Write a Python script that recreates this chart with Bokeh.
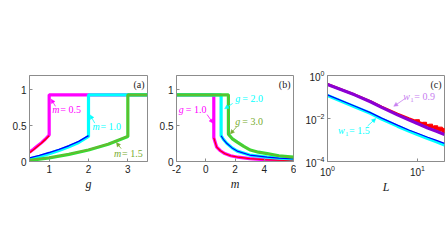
import math
from bokeh.plotting import figure
from bokeh.layouts import row
from bokeh.models import Label, Arrow, NormalHead, FixedTicker, CustomJSTickFormatter, Range1d
from bokeh.embed import file_html
from bokeh.resources import INLINE

# ---------------- data ----------------
# panel (a): k_c vs g
g_m05 = [0.5, 0.6, 0.7, 0.8, 0.9, 1.0, 1.0, 3.5]
kc_m05 = [0.13, 0.17, 0.215, 0.26, 0.31, 0.37, 0.93, 0.93]
kc_m05_th = [0.12, 0.165, 0.21, 0.255, 0.305, 0.36, 0.93, 0.93]

g_m10 = [0.5, 0.75, 1.0, 1.25, 1.5, 1.75, 2.0, 2.0, 3.5]
kc_m10 = [0.035, 0.07, 0.11, 0.155, 0.205, 0.265, 0.35, 0.93, 0.93]
kc_m10_th = [0.05, 0.085, 0.125, 0.17, 0.22, 0.28, 0.36, 0.93, 0.93]

g_m15 = [0.5, 1.0, 1.5, 2.0, 2.5, 3.0, 3.0, 3.5]
kc_m15 = [0.015, 0.05, 0.10, 0.16, 0.24, 0.35, 0.93, 0.93]
kc_m15_th = [0.02, 0.055, 0.105, 0.165, 0.245, 0.355, 0.93, 0.93]

# panel (b): k_c vs m
m_g10 = [-2.0, 0.55, 0.55, 0.75, 1.0, 1.3, 1.7, 2.2, 3.0, 4.0, 5.0, 6.0]
kc_g10 = [0.93, 0.93, 0.33, 0.2, 0.15, 0.11, 0.08, 0.06, 0.04, 0.026, 0.019, 0.015]

m_g20 = [-2.0, 1.05, 1.05, 1.2, 1.45, 1.8, 2.15, 3.0, 4.2, 5.0, 6.0]
kc_g20 = [0.93, 0.93, 0.36, 0.31, 0.25, 0.19, 0.145, 0.09, 0.06, 0.048, 0.037]

m_g30 = [-2.0, 1.55, 1.55, 1.8, 2.15, 2.6, 3.05, 3.6, 4.2, 5.0, 6.0]
kc_g30 = [0.93, 0.93, 0.38, 0.32, 0.27, 0.21, 0.16, 0.13, 0.11, 0.08, 0.06]

# panel (c): k_c vs L (log-log)
L_vals = [1, 2, 3, 4, 6, 8, 10, 13, 16, 20]
kc_w09 = [0.38, 0.126, 0.060, 0.033, 0.0148, 0.0087, 0.0058, 0.0036, 0.0026, 0.0018]
kc_w15 = [0.117, 0.0355, 0.0174, 0.0095, 0.0044, 0.0026, 0.0018, 0.00117, 0.00085, 0.00058]
kc_w15_th = [0.125, 0.038, 0.0188, 0.0104, 0.0049, 0.0029, 0.00205, 0.00135, 0.00099, 0.00070]
L_sim = [1, 2, 3, 4, 6, 8, 10, 12, 14, 16, 18, 20]
kc_w09_sim = [0.39, 0.129, 0.063, 0.035, 0.0165, 0.0100, 0.0071, 0.0054, 0.0044, 0.0037, 0.0032, 0.0028]

# ---------------- styling helpers ----------------
SERIF = "Liberation Serif"
SANS = "Liberation Sans"
AX = "#8c8c8c"
MAG, RED = "#ff00ff", "#ff0000"
CYA, BLU = "#00ffff", "#0000ff"
GRN, OLV = "#33dd33", "#77ac30"
PUR, LPUR = "#8a00d4", "#c880f0"


def base_fig(width, left, right, **kw):
    p = figure(width=width, height=252, output_backend="svg", toolbar_location=None,
               min_border_left=left, min_border_right=right, min_border_top=75,
               min_border_bottom=91, **kw)
    p.grid.visible = False
    p.outline_line_color = AX
    p.outline_line_width = 1
    p.background_fill_color = "white"
    p.border_fill_color = "white"
    for ax in (p.xaxis[0], p.yaxis[0]):
        ax.axis_line_color = AX
        ax.major_tick_line_color = AX
        ax.major_tick_in = 3
        ax.major_tick_out = 0
        ax.minor_tick_line_color = None
        ax.major_label_text_font = SANS
        ax.major_label_text_font_size = "10px"
        ax.major_label_text_color = "#222222"
        ax.major_label_standoff = 3
    p.xaxis.axis_label_text_font = SERIF
    p.xaxis.axis_label_text_font_style = "italic"
    p.xaxis.axis_label_text_font_size = "12px"
    p.xaxis.axis_label_text_color = "#222222"
    p.xaxis.axis_label_standoff = 1
    return p


def ylabel_kc(p, x0, y0, off=-22):
    p.add_layout(Label(x=x0, y=y0, x_offset=off, y_offset=-2, text="k", angle=math.pi / 2,
                       text_font=SERIF, text_font_style="italic", text_font_size="12px",
                       text_color="#222222", text_align="center", text_baseline="middle"))
    p.add_layout(Label(x=x0, y=y0, x_offset=off + 3, y_offset=5, text="c", angle=math.pi / 2,
                       text_font=SERIF, text_font_style="italic", text_font_size="8px",
                       text_color="#222222", text_align="center", text_baseline="middle"))


def panel_tag(p, x, y, t):
    p.add_layout(Label(x=x, y=y, x_offset=-3, y_offset=-3, text=t, text_font=SERIF,
                       text_font_size="10px", text_color="#222222", text_align="right",
                       text_baseline="top"))


def eq_label(p, x, y, var, rest, color, sub=None, var_w=8):
    p.add_layout(Label(x=x, y=y, text=var, text_font=SERIF, text_font_style="italic",
                       text_font_size="10px", text_color=color, text_baseline="middle"))
    off = var_w
    if sub is not None:
        p.add_layout(Label(x=x, y=y, x_offset=off, y_offset=-3, text=sub, text_font=SERIF,
                           text_font_size="7px", text_color=color, text_baseline="middle"))
        off += 4
    p.add_layout(Label(x=x, y=y, x_offset=off, text=rest, text_font=SERIF,
                       text_font_size="10px", text_color=color, text_baseline="middle"))


def arrow(p, xs, ys, xe, ye, color):
    p.add_layout(Arrow(end=NormalHead(size=4, fill_color=color, line_color=color, line_width=0.5),
                       x_start=xs, y_start=ys, x_end=xe, y_end=ye,
                       line_color=color, line_width=0.8))


num_fmt = CustomJSTickFormatter(code="return tick.toString();")

# ---------------- panel (a) ----------------
pa = base_fig(148, 29, 1, x_range=Range1d(0.5, 3.5), y_range=Range1d(0, 1.2))
pa.xaxis.axis_label = "g"
pa.xaxis.ticker = FixedTicker(ticks=[1, 2, 3])
pa.yaxis.ticker = FixedTicker(ticks=[0, 0.5, 1])
pa.xaxis.formatter = num_fmt
pa.yaxis.formatter = num_fmt
pa.line(g_m05, kc_m05, line_color=MAG, line_width=3.2)
pa.line(g_m05[:6], kc_m05_th[:6], line_color=RED, line_width=1.4)
pa.line(g_m10, kc_m10, line_color=CYA, line_width=3.2)
pa.line(g_m10[:7], kc_m10_th[:7], line_color=BLU, line_width=1.4)
pa.line(g_m15, kc_m15, line_color=GRN, line_width=3.2)
pa.line(g_m15, kc_m15_th, line_color=OLV, line_width=1.2)
ylabel_kc(pa, 0.5, 0.6)
panel_tag(pa, 3.5, 1.2, "(a)")
eq_label(pa, 1.08, 0.725, "m", "= 0.5", MAG)
arrow(pa, 1.16, 0.77, 1.05, 0.87, MAG)
eq_label(pa, 2.1, 0.49, "m", "= 1.0", CYA)
arrow(pa, 2.16, 0.535, 2.04, 0.65, CYA)
eq_label(pa, 2.65, 0.11, "m", "= 1.5", OLV)
arrow(pa, 2.83, 0.18, 2.71, 0.265, OLV)

# ---------------- panel (b) ----------------
pb = base_fig(148, 28, 3, x_range=Range1d(-2, 6), y_range=Range1d(0, 1.2))
pb.xaxis.axis_label = "m"
pb.xaxis.ticker = FixedTicker(ticks=[-2, 0, 2, 4, 6])
pb.yaxis.ticker = FixedTicker(ticks=[0, 0.5, 1])
pb.xaxis.formatter = num_fmt
pb.yaxis.formatter = num_fmt
pb.line(m_g10, kc_g10, line_color=MAG, line_width=3.2)
pb.line(m_g10[2:], kc_g10[2:], line_color=RED, line_width=1.2)
pb.line(m_g20, kc_g20, line_color=CYA, line_width=3.2)
pb.line(m_g20[2:], kc_g20[2:], line_color=BLU, line_width=1.2)
pb.line(m_g30, kc_g30, line_color=GRN, line_width=3.2)
pb.line(m_g30, kc_g30, line_color=OLV, line_width=1.0)
ylabel_kc(pb, -2, 0.6)
panel_tag(pb, 6, 1.2, "(b)")
eq_label(pb, -1.84, 0.725, "g", "= 1.0", MAG, var_w=7)
arrow(pb, 0.09, 0.655, 0.50, 0.535, MAG)
eq_label(pb, 2.02, 0.875, "g", "= 2.0", CYA, var_w=7)
arrow(pb, 1.84, 0.81, 1.29, 0.735, CYA)
eq_label(pb, 2.02, 0.56, "g", "= 3.0", OLV, var_w=7)
arrow(pb, 2.14, 0.49, 1.68, 0.385, OLV)

# ---------------- panel (c) ----------------
pc = base_fig(152, 31, 4, x_axis_type="log", y_axis_type="log",
              x_range=Range1d(1, 20), y_range=Range1d(1e-4, 1))
pc.xaxis.axis_label = "L"
pc.xaxis.ticker = FixedTicker(ticks=[1, 10])
pc.yaxis.ticker = FixedTicker(ticks=[1e-4, 1e-2, 1])
pc.line(L_sim, kc_w09_sim, line_color=RED, line_width=2.5)
pc.scatter(L_sim[6:], kc_w09_sim[6:], marker="square", size=4, color=RED)
pc.line(L_vals, kc_w09, line_color=PUR, line_width=3.2)
pc.line(L_vals, kc_w15, line_color=CYA, line_width=3.2)
pc.line(L_vals, kc_w15_th, line_color=BLU, line_width=1.2)
ylabel_kc(pc, 1, 0.01, off=-23)
panel_tag(pc, 20, 1, "(c)")
eq_label(pc, 6.97, 10 ** -0.98, "w", "= 0.9", LPUR, sub="1", var_w=7)
arrow(pc, 7.33, 10 ** -1.065, 5.46, 10 ** -1.433, LPUR)
eq_label(pc, 1.31, 10 ** -2.56, "w", "= 1.5", CYA, sub="1", var_w=7)
arrow(pc, 2.79, 10 ** -2.35, 3.44, 10 ** -2.0, CYA)

layout = row(pa, pb, pc)
open("out.html", "w").write(file_html(layout, INLINE))
